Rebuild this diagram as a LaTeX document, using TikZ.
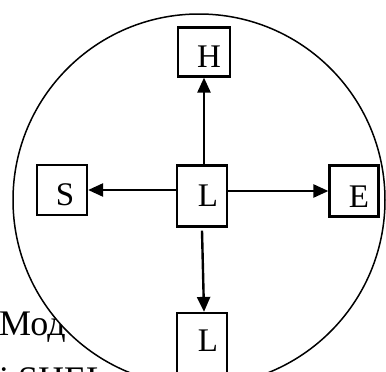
\documentclass[tikz,border=0pt]{standalone}
\usepackage{fontspec}
\setmainfont{Liberation Serif}
\usetikzlibrary{arrows.meta,calc}
\begin{document}
\begin{tikzpicture}[x=1pt,y=-1pt,
  box/.style={draw,line width=2.2pt,inner sep=0pt,fill=white},
  letter/.style={font=\fontsize{33}{38}\selectfont,inner sep=0pt},
  body/.style={font=\fontsize{36}{42}\selectfont,inner sep=0pt,anchor=base west},
  link/.style={line width=2.4pt,-{Triangle[length=15pt,width=13pt]}}]
  \useasboundingbox (0,0) rectangle (386,372);
  \clip (0,0) rectangle (386,372);
  % text of the page behind the circle
  \node[body] (t1) at (-1,335) {Мод};
  \node[body] (t2) at (-1,391) {і SHEL};
  % the surrounding circle
  \draw[line width=1.5pt,fill=white] (199,200) circle [radius=186];
  % boxes
  \node[box,minimum width=52pt,minimum height=49pt] (H) at (204,52) {};
  \node[box,minimum width=50pt,minimum height=50pt] (S) at (62,190) {};
  \node[box,minimum width=50pt,minimum height=61pt] (L) at (202,196) {};
  \node[box,minimum width=49pt,minimum height=51pt] (E) at (354,191) {};
  \node[box,minimum width=50pt,minimum height=70pt] (B) at (202,348) {};
  % letters
  \node[letter] (hl) at ($(H.center)+(5,5)$) {H};
  \node[letter] (sl) at ($(S.center)+(3,5)$) {S};
  \node[letter] (ll) at ($(L.center)+(6,0)$) {L};
  \node[letter] (el) at ($(E.center)+(5,6)$) {E};
  \node[letter] (bl) at ($(B.north)+(6,29)$) {L};
  % connectors
  \coordinate (lt) at ($(L.north)+(2,0)$);
  \coordinate (lb) at ($(L.south)+(0,3)$);
  \coordinate (ls) at (L.west |- S.east);
  \coordinate (le) at (L.east |- E.west);
  \draw[link] (lt) -- (H.south -| lt);
  \draw[link] (ls) -- (S.east);
  \draw[link] (le) -- (E.west);
  \draw[link] (lb) -- ($(B.north)+(2,0)$);
\end{tikzpicture}
\end{document}
